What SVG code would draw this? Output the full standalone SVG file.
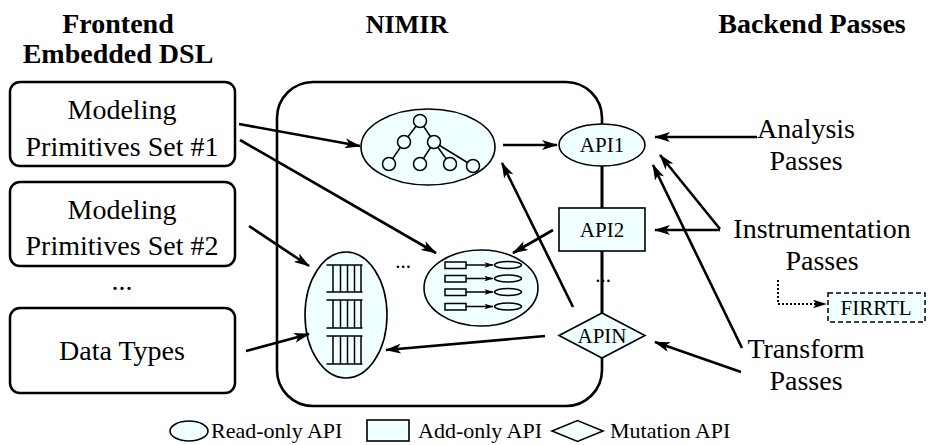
<svg xmlns="http://www.w3.org/2000/svg" width="930" height="445" viewBox="0 0 930 445">
<defs>
<marker id="ah" viewBox="0 0 16 10" refX="15" refY="5" markerWidth="16" markerHeight="10" markerUnits="userSpaceOnUse" orient="auto"><path d="M0,0 L16,5 L0,10 L4,5 z" fill="#000"/></marker>
<marker id="ahs" viewBox="0 0 10 6" refX="9.5" refY="3" markerWidth="9" markerHeight="6" markerUnits="userSpaceOnUse" orient="auto"><path d="M0,0 L10,3 L0,6 L2.5,3 z" fill="#000"/></marker>
<marker id="ahf" viewBox="0 0 16 10" refX="15" refY="5" markerWidth="14" markerHeight="9" markerUnits="userSpaceOnUse" orient="auto"><path d="M0,0 L16,5 L0,10 L4,5 z" fill="#000"/></marker>
</defs>
<style>
text{font-family:"Liberation Serif","Times New Roman","DejaVu Serif",serif;fill:#000}
.h{font-weight:bold;font-size:28px;text-anchor:middle}
.b{font-size:28px;text-anchor:middle}
.api{font-size:21px;text-anchor:middle}
.lg{font-size:22px}
.box{fill:#fff;stroke:#000;stroke-width:2.5}
.shape{fill:#f0ffff;stroke:#000;stroke-width:1.6}
.thin{fill:none;stroke:#000;stroke-width:1.5}
.tn{fill:#f0ffff;stroke:#000;stroke-width:1.5}
.c{fill:none;stroke:#000;stroke-width:2.6;marker-end:url(#ah)}
.col{fill:none;stroke:#000;stroke-width:2.6}
</style>
<rect width="930" height="445" fill="#fff"/>

<g id="headers">
<text class="h" x="118" y="33">Frontend</text>
<text class="h" x="118" y="63">Embedded DSL</text>
<text class="h" x="407" y="33" style="font-size:26px">NIMIR</text>
<text class="h" x="812" y="33">Backend Passes</text>
</g>

<g id="set1">
<rect class="box" x="10" y="82" width="225" height="84" rx="10"/>
<text class="b" x="122" y="119">Modeling</text>
<text class="b" x="122" y="156">Primitives Set #1</text>
</g>
<g id="set2">
<rect class="box" x="10" y="182" width="225" height="84" rx="10"/>
<text class="b" x="122" y="219">Modeling</text>
<text class="b" x="122" y="255">Primitives Set #2</text>
</g>
<g id="ellipsis-left"><text class="b" x="122" y="290">...</text></g>
<g id="datatypes">
<rect class="box" x="10" y="308" width="225" height="85" rx="10"/>
<text class="b" x="122" y="360">Data Types</text>
</g>

<g id="nimir">
<rect x="277" y="82" width="325" height="324" rx="36" fill="none" stroke="#000" stroke-width="2.6"/>
</g>

<g id="api-column">
<line class="col" x1="602" y1="166" x2="602" y2="208"/>
<line class="col" x1="602" y1="251" x2="602" y2="313"/>
<text class="api" x="603" y="282">...</text>
</g>

<g id="tree">
<ellipse class="shape" cx="428" cy="147" rx="67" ry="38"/>
<g class="thin">
<line x1="420" y1="121" x2="404" y2="142"/>
<line x1="420" y1="121" x2="434" y2="142"/>
<line x1="404" y1="142" x2="389" y2="164"/>
<line x1="434" y1="142" x2="420" y2="164"/>
<line x1="434" y1="142" x2="450" y2="164"/>
<line x1="434" y1="142" x2="473" y2="166"/>
</g>
<circle class="tn" cx="420" cy="121" r="6.5"/>
<circle class="tn" cx="404" cy="142" r="6.5"/>
<circle class="tn" cx="434" cy="142" r="6.5"/>
<circle class="tn" cx="389" cy="164" r="6.5"/>
<circle class="tn" cx="420" cy="164" r="6.5"/>
<circle class="tn" cx="450" cy="164" r="6.5"/>
<circle class="tn" cx="473" cy="166" r="6.5"/>
</g>

<g id="stack">
<ellipse class="shape" cx="346" cy="315" rx="41" ry="63"/>
<g class="thin">
<path d="M326.5,265H362.5M326.5,292H362.5M333,265V292M340.5,265V292M347.5,265V292M354.5,265V292M361,265V292"/>
<path d="M326.5,300H362.5M326.5,328H362.5M333,300V328M340.5,300V328M347.5,300V328M354.5,300V328M361,300V328"/>
<path d="M326.5,336H362.5M326.5,364H362.5M333,336V364M340.5,336V364M347.5,336V364M354.5,336V364M361,336V364"/>
</g>
</g>

<g id="ellipsis-mid"><text class="api" x="403" y="268">...</text></g>

<g id="map">
<ellipse class="shape" cx="481" cy="288" rx="57" ry="38"/>
<g class="thin">
<rect x="445" y="262" width="21" height="6.5"/>
<rect x="445" y="275.5" width="21" height="6.5"/>
<rect x="445" y="289" width="21" height="6.5"/>
<rect x="445" y="303.5" width="21" height="6.5"/>
<ellipse cx="508" cy="265" rx="13.5" ry="3.5"/>
<ellipse cx="508" cy="278.5" rx="13.5" ry="3.5"/>
<ellipse cx="508" cy="292" rx="13.5" ry="3.5"/>
<ellipse cx="508" cy="306.5" rx="13.5" ry="3.5"/>
<line x1="466" y1="265" x2="493" y2="265" marker-end="url(#ahs)"/>
<line x1="466" y1="278.5" x2="493" y2="278.5" marker-end="url(#ahs)"/>
<line x1="466" y1="292" x2="493" y2="292" marker-end="url(#ahs)"/>
<line x1="466" y1="306.5" x2="493" y2="306.5" marker-end="url(#ahs)"/>
</g>
</g>

<g id="api1">
<ellipse class="shape" cx="602" cy="145" rx="43" ry="21"/>
<text class="api" x="602" y="152">API1</text>
</g>
<g id="api2">
<rect class="shape" x="559" y="208" width="86" height="43"/>
<text class="api" x="602" y="237">API2</text>
</g>
<g id="apin">
<path class="shape" d="M559,335.5 L602,313 L645,335.5 L602,358 Z"/>
<text class="api" x="602" y="343">APIN</text>
</g>

<g id="backend">
<text class="b" x="806" y="138">Analysis</text>
<text class="b" x="806" y="170">Passes</text>
<text class="b" x="822" y="238">Instrumentation</text>
<text class="b" x="822" y="270">Passes</text>
<text class="b" x="806" y="358">Transform</text>
<text class="b" x="806" y="390">Passes</text>
</g>

<g id="firrtl">
<rect x="828" y="293" width="97" height="29" fill="#f0ffff" stroke="#000" stroke-width="1.5" stroke-dasharray="5,3"/>
<text class="api" x="876" y="315">FIRRTL</text>
</g>

<g id="connectors">
<line class="c" x1="239" y1="124" x2="360" y2="146"/>
<line class="c" x1="240" y1="140" x2="436" y2="253"/>
<line class="c" x1="249" y1="226" x2="309" y2="266"/>
<line class="c" x1="246" y1="351" x2="309" y2="334"/>
<line class="c" x1="503" y1="145" x2="557" y2="145"/>
<line class="c" x1="573" y1="307" x2="502" y2="163"/>
<line class="c" x1="553" y1="230" x2="513" y2="253"/>
<line class="c" x1="545" y1="336" x2="386" y2="350"/>
<line class="c" x1="757" y1="137" x2="655" y2="137"/>
<line class="c" x1="720" y1="229" x2="660" y2="155"/>
<line class="c" x1="720" y1="230" x2="655" y2="230"/>
<line class="c" x1="742" y1="348" x2="653" y2="165"/>
<line class="c" x1="741" y1="372" x2="655" y2="342"/>
<path d="M778,280 V304 H826" fill="none" stroke="#000" stroke-width="2" stroke-dasharray="2,2" marker-end="url(#ahf)"/>
</g>

<g id="legend">
<ellipse class="shape" cx="189" cy="431" rx="19" ry="10"/>
<text class="lg" x="211" y="438">Read-only API</text>
<rect class="shape" x="367" y="420" width="42" height="21"/>
<text class="lg" x="418" y="438">Add-only API</text>
<path class="shape" d="M552,431 L577.5,420.5 L603,431 L577.5,441.5 Z"/>
<text class="lg" x="610" y="438">Mutation API</text>
</g>
</svg>
